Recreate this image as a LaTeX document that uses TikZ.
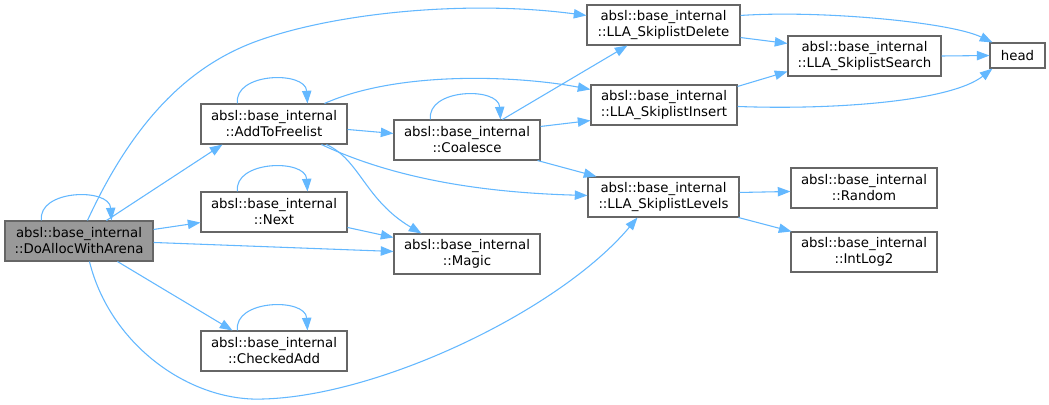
\documentclass[tikz,border=0pt]{standalone}
\usepackage{fontspec}
\setmainfont{DejaVu Sans}
\usetikzlibrary{arrows.meta,calc}
\definecolor{edgeblue}{HTML}{63B8FF}
\definecolor{boxline}{HTML}{666666}
\definecolor{boxfill}{HTML}{999999}
\newcommand\selfcall[1]{\draw[call] ($(#1.north west)+(37,0)$) .. controls +(-4,-31) and +(-2,-33) .. ($(#1.north west)+(107,0)$);}
\begin{document}
\begin{tikzpicture}[x=0.75pt,y=-0.75pt,
  fn/.style={draw=boxline, line width=0.8pt, fill=white, inner sep=0pt, align=center,
    minimum height=30pt, font=\fontsize{10}{12}\selectfont},
  w/.style={minimum width=#1*0.75pt},
  call/.style={draw=edgeblue, line width=0.8pt, -{Triangle[length=9.5pt,width=7pt]}}]
\fill[white] (0,0) rectangle (1049,404);
\useasboundingbox (0,0) rectangle (1049,404);

\node[fn, fill=boxfill, w=148] (doalloc) at (79,241) {absl::base\_internal\\::DoAllocWithArena};
\node[fn, w=146] (addfree) at (274,124) {absl::base\_internal\\::AddToFreelist};
\node[fn, w=146] (next) at (274,212) {absl::base\_internal\\::Next};
\node[fn, w=146] (checked) at (274,351) {absl::base\_internal\\::CheckedAdd};
\node[fn, w=146] (coalesce) at (467,140) {absl::base\_internal\\::Coalesce};
\node[fn, w=146] (magic) at (467,254) {absl::base\_internal\\::Magic};
\node[fn, w=153] (delete) at (663.5,25) {absl::base\_internal\\::LLA\_SkiplistDelete};
\node[fn, w=146] (insert) at (664,105) {absl::base\_internal\\::LLA\_SkiplistInsert};
\node[fn, w=151] (levels) at (663.5,197) {absl::base\_internal\\::LLA\_SkiplistLevels};
\node[fn, w=153] (search) at (864.5,56) {absl::base\_internal\\::LLA\_SkiplistSearch};
\node[fn, w=55, minimum height=18.75pt] (head) at (1017.5,55.5) {head};
\node[fn, w=146] (random) at (864,188) {absl::base\_internal\\::Random};
\node[fn, w=146] (intlog) at (864,252) {absl::base\_internal\\::IntLog2};

% self calls
\selfcall{doalloc}
\selfcall{addfree}
\selfcall{next}
\selfcall{checked}
\selfcall{coalesce}

% DoAllocWithArena
\draw[call] ($(doalloc.north west)+(83,0)$) .. controls (136,115) and (194,63) .. (260,40)
  .. controls (340,12) and (470,0) .. ($(delete.north west)+(0,11)$);
\draw[call] ($(doalloc.north west)+(102,0)$) -- ($(addfree.south west)+(22,0)$);
\draw[call] ($(doalloc.north east)+(0,9)$) -- ($(next.south west)+(0,-10)$);
\draw[call] ($(doalloc.north east)+(0,22)$) -- ($(magic.north west)+(0,18)$);
\draw[call] ($(doalloc.south west)+(113,0)$) -- ($(checked.north west)+(32,0)$);
\draw[call] ($(doalloc.south west)+(85,0)$) .. controls (110,345) and (190,402) .. (263,399)
  .. controls (380,396) and (560,310) .. ($(levels.south west)+(50,0)$);

% AddToFreelist
\draw[call] ($(addfree.north west)+(124,0)$) .. controls (400,70) and (520,76) .. ($(insert.north west)+(0,5)$);
\draw[call] ($(addfree.north east)+(0,26)$) -- ($(coalesce.north west)+(0,14)$);
\draw[call] ($(addfree.south west)+(121,0)$) .. controls (380,172) and (460,192) .. ($(levels.north west)+(0,19)$);
\draw[call] ($(addfree.south west)+(126,0)$) .. controls (360,160) and (365,200) .. ($(magic.north west)+(28,0)$);

% Next
\draw[call] ($(next.north east)+(0,36)$) -- ($(magic.north west)+(0,4)$);

% Coalesce
\draw[call] ($(coalesce.north west)+(109,0)$) -- ($(delete.south west)+(41,0)$);
\draw[call] ($(coalesce.north east)+(0,7)$) -- ($(insert.south west)+(0,-5)$);
\draw[call] ($(coalesce.south east)+(-3,0)$) -- ($(levels.north west)+(9,0)$);

% Skiplist functions
\draw[call] ($(delete.north east)+(0,11)$) .. controls (820,10) and (950,22) .. ($(head.north west)+(3,0)$);
\draw[call] ($(delete.south east)+(0,-8)$) -- ($(search.north west)+(0,8)$);
\draw[call] ($(insert.north east)+(0,2)$) -- ($(search.south west)+(0,-5)$);
\draw[call] ($(insert.north east)+(0,22)$) .. controls (830,110) and (950,102) .. ($(head.south west)+(3,0)$);
\draw[call] (search.east) -- (head.west);
\draw[call] ($(levels.north east)+(0,16)$) -- ($(random.north west)+(0,24)$);
\draw[call] ($(levels.south east)+(-1,0)$) -- ($(intlog.north west)+(1,0)$);
\end{tikzpicture}
\end{document}
